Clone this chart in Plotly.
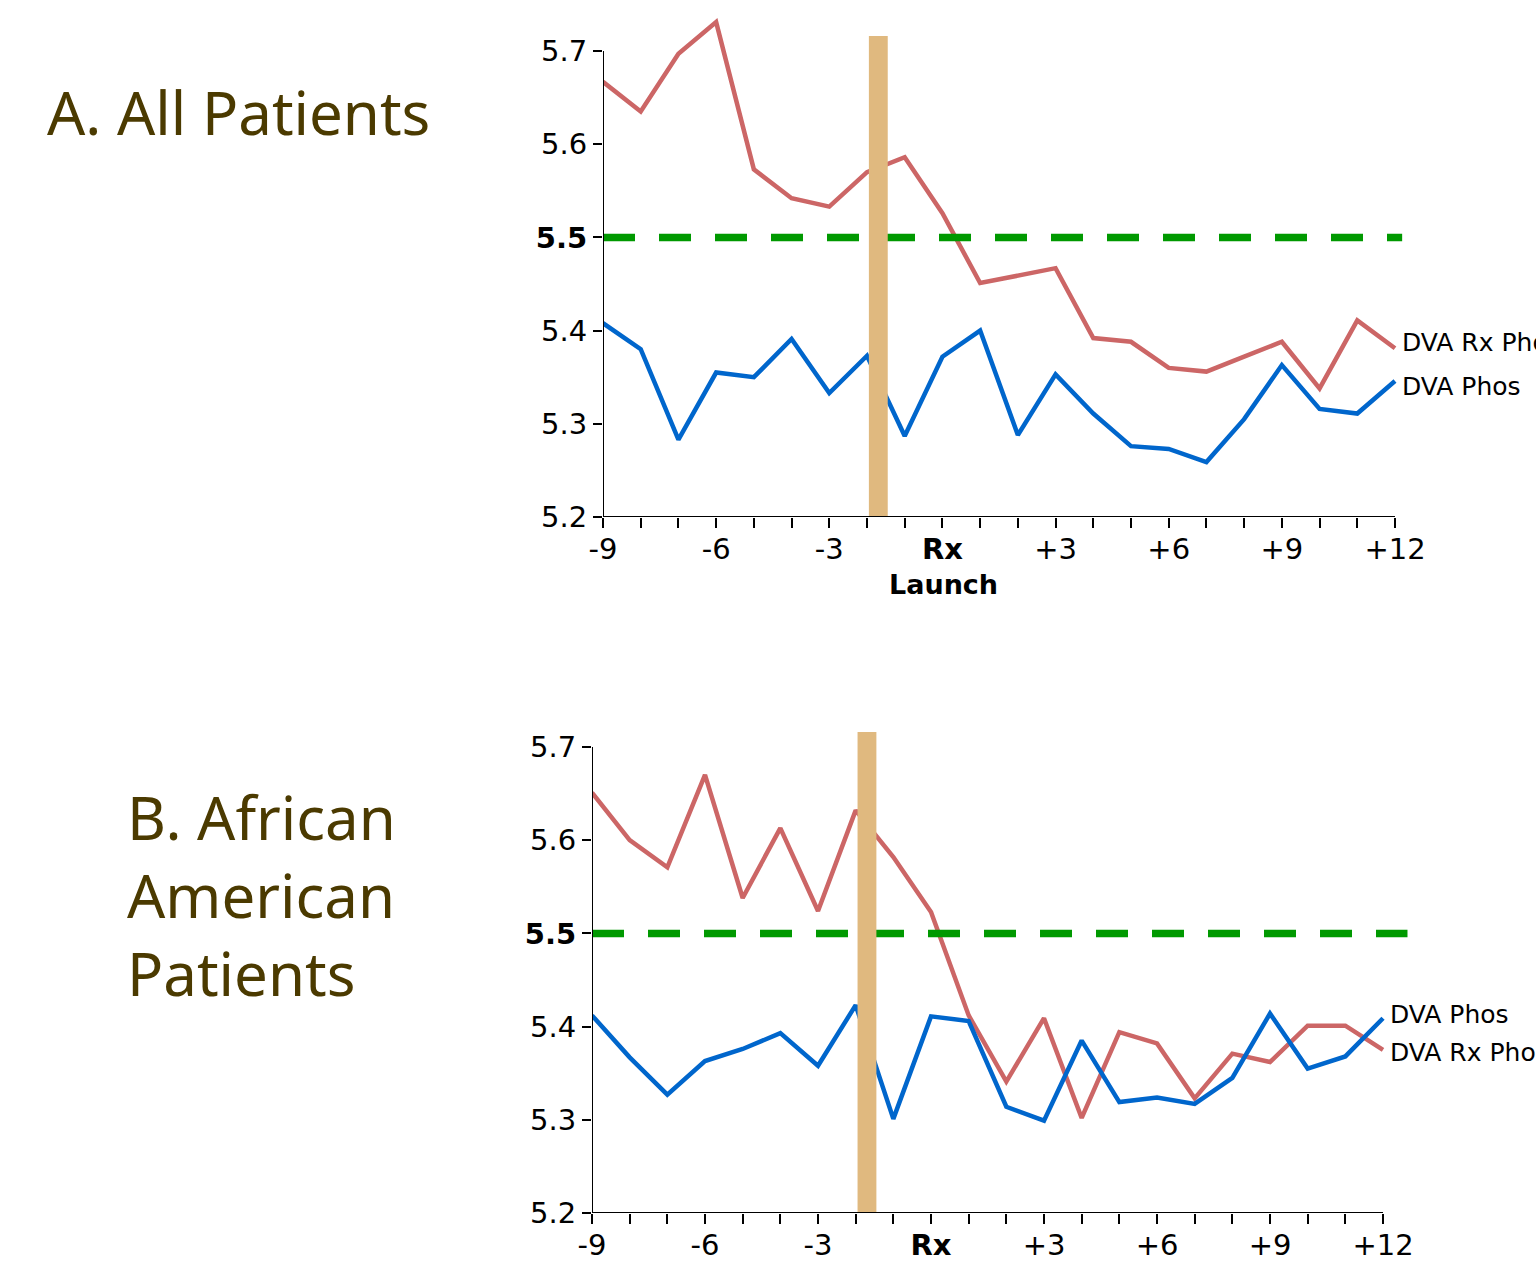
import plotly.graph_objects as go

# ---------------- data ----------------
months = list(range(-9, 13))
tick_labels = ["-9", "", "", "-6", "", "", "-3", "", "", "<b>Rx</b>", "", "",
               "+3", "", "", "+6", "", "", "+9", "", "", "+12"]
y_ticks = [5.2, 5.3, 5.4, 5.5, 5.6, 5.7]
y_tick_labels = ["5.2", "5.3", "5.4", "<b>5.5</b>", "5.6", "5.7"]

a_rx_phos = [5.667, 5.635, 5.697, 5.731, 5.573, 5.542, 5.533, 5.570, 5.586, 5.526, 5.451,
             5.459, 5.467, 5.392, 5.388, 5.360, 5.356, 5.372, 5.388, 5.338, 5.411, 5.381]
a_phos = [5.408, 5.380, 5.283, 5.355, 5.350, 5.391, 5.333, 5.373, 5.287, 5.372, 5.400,
          5.288, 5.353, 5.311, 5.276, 5.273, 5.259, 5.305, 5.363, 5.316, 5.311, 5.346]

b_rx_phos = [5.651, 5.600, 5.571, 5.670, 5.538, 5.613, 5.524, 5.632, 5.582, 5.523, 5.412,
             5.341, 5.409, 5.302, 5.394, 5.382, 5.323, 5.371, 5.362, 5.401, 5.401, 5.375]
b_phos = [5.412, 5.367, 5.327, 5.363, 5.376, 5.393, 5.358, 5.423, 5.301, 5.411, 5.406,
          5.314, 5.299, 5.385, 5.319, 5.324, 5.317, 5.345, 5.414, 5.355, 5.368, 5.409]

target_level = 5.5
launch_window = (-1.95, -1.45)
launch_bar_top = 5.716

# ---------------- styles ----------------
RED = "#CC6666"
BLUE = "#0066CC"
GREEN = "#009900"
TAN = "#E0B97F"
TITLE_COLOR = "#4B3A00"
TICK_FONT = dict(family="DejaVu Sans", size=29, color="black")
W, H = 1536, 1261

fig = go.Figure()

panels = [
    dict(xa="x", ya="y", rx=a_rx_phos, ph=a_phos, green_end=12.19,
         xdom=(603 / W, (603 + 21.3 * 37.714) / W), xr=[-9, 12.3],
         ydom=(1 - 517 / H, 1 - 4.4 / H)),
    dict(xa="x2", ya="y2", rx=b_rx_phos, ph=b_phos, green_end=12.65,
         xdom=(592 / W, (592 + 21.7 * 37.667) / W), xr=[-9, 12.7],
         ydom=(1 - 1213 / H, 1 - 700.4 / H)),
]

for p in panels:
    fig.add_trace(go.Scatter(x=months, y=p["rx"], mode="lines", xaxis=p["xa"], yaxis=p["ya"],
                             line=dict(color=RED, width=4.5), showlegend=False))
    fig.add_trace(go.Scatter(x=months, y=p["ph"], mode="lines", xaxis=p["xa"], yaxis=p["ya"],
                             line=dict(color=BLUE, width=4.5), showlegend=False))
    fig.add_trace(go.Scatter(x=[months[0], p["green_end"]], y=[target_level, target_level],
                             mode="lines", xaxis=p["xa"], yaxis=p["ya"],
                             line=dict(color=GREEN, width=7.5, dash="32px,24px"),
                             showlegend=False))
    # launch bar
    fig.add_shape(type="rect", xref=p["xa"], yref=p["ya"],
                  x0=launch_window[0], x1=launch_window[1], y0=y_ticks[0], y1=launch_bar_top,
                  fillcolor=TAN, line=dict(width=0), layer="above")
    # axis lines
    fig.add_shape(type="line", xref=p["xa"], yref=p["ya"], x0=months[0], x1=months[-1],
                  y0=y_ticks[0], y1=y_ticks[0], line=dict(color="black", width=2), layer="above")
    fig.add_shape(type="line", xref=p["xa"], yref=p["ya"], x0=months[0], x1=months[0],
                  y0=y_ticks[0], y1=y_ticks[-1], line=dict(color="black", width=2), layer="above")

axis_common_x = dict(tickmode="array", tickvals=months, ticktext=tick_labels, ticks="outside",
                     ticklen=10, tickwidth=2, tickcolor="black", showgrid=False, zeroline=False,
                     showline=False, tickfont=TICK_FONT, fixedrange=True, automargin=False,
                     ticklabelstandoff=-4)
axis_common_y = dict(tickmode="array", tickvals=y_ticks, ticktext=y_tick_labels, ticks="outside",
                     ticklen=9, tickwidth=2, tickcolor="black", showgrid=False, zeroline=False,
                     showline=False, tickfont=TICK_FONT, range=[5.2, 5.75], fixedrange=True,
                     automargin=False)

fig.update_layout(
    width=W, height=H, margin=dict(l=0, r=0, t=0, b=0, pad=0, autoexpand=False),
    paper_bgcolor="white", plot_bgcolor="white",
    xaxis=dict(domain=list(panels[0]["xdom"]), range=panels[0]["xr"], anchor="y", **axis_common_x),
    yaxis=dict(domain=list(panels[0]["ydom"]), anchor="x", **axis_common_y),
    xaxis2=dict(domain=list(panels[1]["xdom"]), range=panels[1]["xr"], anchor="y2", **axis_common_x),
    yaxis2=dict(domain=list(panels[1]["ydom"]), anchor="x2", **axis_common_y),
)

LABEL_FONT = dict(family="DejaVu Sans", size=25, color="black")
annotations = [
    dict(text="A. All Patients", x=45 / W, y=1 - 112 / H, xanchor="left", yanchor="middle",
         font=dict(family="Noto Sans", size=60, color=TITLE_COLOR), align="left"),
    dict(text="B. African<br>American<br>Patients", x=125 / W, y=1 - 895 / H, xanchor="left",
         yanchor="middle", font=dict(family="Noto Sans", size=60, color=TITLE_COLOR), align="left"),
    dict(text="<b>Launch</b>", x=943 / W, y=1 - 584 / H, xanchor="center", yanchor="middle",
         font=dict(family="DejaVu Sans", size=27, color="black")),
    dict(text="DVA Rx Phos", x=1400 / W, y=1 - 343 / H, xanchor="left", yanchor="middle", font=LABEL_FONT),
    dict(text="DVA Phos", x=1400 / W, y=1 - 386 / H, xanchor="left", yanchor="middle", font=LABEL_FONT),
    dict(text="DVA Phos", x=1388 / W, y=1 - 1014 / H, xanchor="left", yanchor="middle", font=LABEL_FONT),
    dict(text="DVA Rx Phos", x=1388 / W, y=1 - 1052 / H, xanchor="left", yanchor="middle", font=LABEL_FONT),
]
for a in annotations:
    a.update(xref="paper", yref="paper", showarrow=False)
fig.update_layout(annotations=annotations)

fig.write_html("out.html", config={"displayModeBar": False},
               post_script="document.body.style.margin='0';")
